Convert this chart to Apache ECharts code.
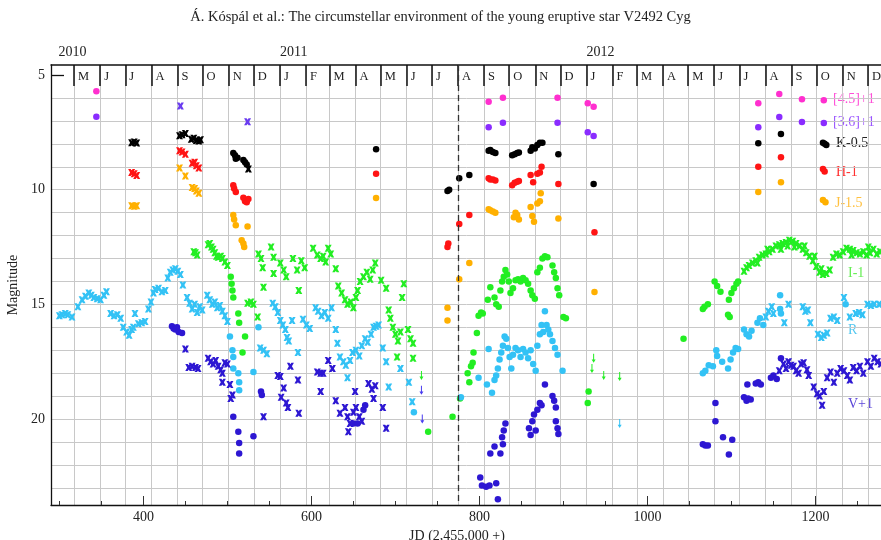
<!DOCTYPE html>
<html>
<head>
<meta charset="utf-8">
<script src="https://cdn.jsdelivr.net/npm/echarts@6/dist/echarts.min.js"></script>
<style>
html,body{margin:0;padding:0;background:#fff;}
#c{width:881px;height:540px;}
</style>
</head>
<body>
<div id="c"></div>
<script>
// ---------- axis / tick data ----------
const xTicks = [300,350,400,450,500,550,600,650,700,750,800,850,900,950,1000,1050,1100,1150,1200,1250];
const xLabels = [400,600,800,1000,1200];
const monthStarts = [317.5,348.5,378.5,409.5,440.5,470.5,501.5,531.5,562.5,593.5,621.5,652.5,682.5,713.5,743.5,774.5,805.5,835.5,866.5,896.5,927.5,958.5,987.5,1018.5,1048.5,1079.5,1109.5,1140.5,1171.5,1201.5,1232.5,1262.5];
const monthLetters = ['M','J','J','A','S','O','N','D','J','F','M','A','M','J','J','A','S','O','N','D','J','F','M','A','M','J','J','A','S','O','N','D'];
const yearPos = [299,562.5,927.5];
const yearLabels = ['2010','2011','2012'];
const yGrid = [6,7,8,9,10,11,12,13,14,15,16,17,18,19,20,21,22,23];
const yLabels = [5,10,15,20];
const dashedJD = 774.5;

// ---------- data [JD-2455000, magnitude] ----------
const m45_dots = [[344,5.7],[811,6.16],[828,5.99],[893,5.99],[929,6.23],[936,6.38],[1132,6.23],[1157,5.83],[1184,6.05],[1210,6.1]];
const m36_dots = [[344,6.82],[811,7.27],[828,7.08],[893,7.08],[929,7.49],[936,7.66],[1132,7.27],[1157,6.83],[1184,7.05],[1210,7.09]];
const m36_crosses = [[444,6.35],[524,7.04]];

const k_crosses = [[386,7.95],[389,7.92],[392,7.96],[443,7.65],[446,7.6],[450,7.55],[457,7.8],[460,7.75],[463,7.85],[466,7.88],[468,7.82],[525,9.1]];
const k_dots = [[507,8.4],[509,8.5],[510,8.65],[512,8.6],[519,8.7],[521,8.8],[523,8.9],[677,8.23],[762,10.06],[764,10.0],[776,9.5],[788,9.36],[811,8.3],[813,8.27],[816,8.35],[819,8.4],[839,8.5],[842,8.45],[845,8.4],[847,8.38],[861,8.3],[863,8.15],[866,8.2],[869,8.05],[872,7.95],[875,7.95],[894,8.45],[936,9.75],[1132,7.97],[1159,7.57],[1209,7.95],[1211,8.0],[1213,8.05]];

const h_crosses = [[386,9.25],[389,9.3],[392,9.38],[443,8.3],[446,8.35],[450,8.45],[458,8.85],[461,8.8],[463,8.95],[466,9.05]];
const h_dots = [[507,9.8],[508,9.95],[510,10.1],[519,10.35],[521,10.5],[523,10.55],[525,10.4],[677,9.3],[762,12.5],[763,12.35],[776,11.5],[788,11.1],[811,9.5],[813,9.55],[816,9.55],[819,9.6],[839,9.8],[842,9.7],[845,9.65],[847,9.62],[861,9.36],[864,9.67],[869,9.3],[872,9.25],[874,9.0],[894,9.75],[937,11.85],[1132,9.0],[1159,8.58],[1209,9.1],[1211,9.2]];

const j_crosses = [[386,10.7],[389,10.72],[392,10.7],[443,9.05],[450,9.4],[458,9.9],[461,9.95],[463,10.05],[466,10.15]];
const j_dots = [[507,11.1],[508,11.3],[510,11.55],[517,12.2],[519,12.35],[520,12.5],[524,11.6],[677,10.36],[762,15.15],[762,15.7],[776,13.9],[788,13.2],[811,10.85],[813,10.9],[816,10.95],[819,11.0],[841,11.2],[843,11.0],[845,11.1],[847,11.3],[861,10.75],[863,11.15],[865,11.4],[869,10.6],[872,10.5],[873,10.15],[894,11.25],[937,14.46],[1132,10.1],[1159,9.67],[1209,10.45],[1212,10.55]];

const i_crosses = [[460,12.7],[462,12.75],[464,12.85],[477,12.4],[479,12.35],[481,12.5],[483,12.6],[485,12.75],[487,12.9],[489,12.95],[492,12.9],[494,13.0],[497,13.15],[500,13.3],[524,14.95],[528,14.9],[531,15.0],[536,15.55],[537,12.8],[540,13.0],[542,13.4],[543,14.25],[552,12.5],[555,12.95],[555,13.65],[563,13.2],[567,13.5],[570,13.8],[578,13.0],[583,13.5],[585,14.4],
  [588,13.1],[592,13.4],[602,12.55],[607,12.85],[611,13.0],[614,12.9],[617,13.15],[620,12.55],[623,12.8],[629,13.45],[632,14.2],[636,14.5],[640,14.8],[643,15.0],[647,14.9],[650,15.15],[653,14.7],[655,14.4],[658,14.0],[662,13.8],[666,13.6],[670,13.9],[673,13.5],[676,13.2],[683,13.95],[689,14.3],[692,15.25],[694,15.6],[697,16.0],[700,16.3],[703,16.6],[706,16.2],[710,14.1],[708,14.7],[715,16.1],[718,16.5],[721,16.7],[702,17.3],[721,17.35],
  [1115,13.55],[1118,13.4],[1121,13.3],[1125,13.2],[1129,13.1],[1133,12.95],[1137,12.85],[1141,12.8],[1145,12.7],[1149,12.6],[1153,12.45],[1157,12.4],[1161,12.35],[1165,12.3],[1169,12.2],[1173,12.25],[1177,12.35],[1181,12.45],[1185,12.6],[1189,12.75],[1193,12.9],[1197,13.1],[1201,13.35],[1205,13.6],[1209,13.7],[1213,13.65],[1217,13.5],[1221,12.95],[1225,12.8],[1229,12.85],[1233,12.7],[1237,12.55],[1241,12.6],[1245,12.65],[1249,12.75],[1253,12.8],[1257,12.7],[1261,12.85],[1265,12.75],[1269,12.6],[1273,12.8],[1277,12.7],
  [1131,13.2],[1143,12.6],[1159,12.6],[1167,12.45],[1175,12.5],[1187,12.45],[1199,12.9],[1207,13.45],[1243,12.85],[1263,12.5]];
const i_dots = [[504,13.8],[505,14.1],[506,14.4],[507,14.7],[513,15.4],[514,15.8],[521,16.4],[518,17.1],[739,20.55],[768,19.9],
  [777,19.1],[786,18.0],[788,18.4],[790,17.7],[792,17.55],[793,17.1],[797,16.25],[799,15.5],[802,15.35],[804,15.4],[810,14.8],[813,14.25],[818,14.7],[820,15.0],[823,15.1],[825,14.4],[827,14.0],[829,13.8],[831,13.5],[833,13.7],[835,14.0],[837,14.5],[840,14.3],[843,13.95],[846,13.9],[849,14.0],[852,13.85],[855,13.95],[858,14.1],[861,14.4],[863,14.6],[866,14.75],[869,13.6],[872,13.4],[875,13.0],[878,12.9],[881,12.95],[887,13.3],[889,13.6],[891,13.85],[893,14.3],[895,14.6],[900,15.55],[903,15.6],
  [930,18.8],[929,19.3],[1043,16.5],[1066,15.2],[1068,15.1],[1072,15.0],[1080,14.0],[1083,14.2],[1087,14.45],[1096,15.45],[1098,15.55],[1097,14.8],[1100,14.5],[1103,14.3],[1106,14.1],[1108,14.0]];
const i_limits = [[731,18.1],[936,17.35],[934,17.8],[948,18.1],[967,18.15]];

const r_crosses = [[300,15.5],[303,15.45],[307,15.4],[310,15.45],[315,15.55],[322,15.1],[327,14.8],[331,14.65],[335,14.5],[338,14.6],[341,14.7],[345,14.75],[349,14.8],[353,14.6],[356,14.45],[361,15.4],[365,15.5],[369,15.45],[373,15.6],[376,16.0],[380,16.2],[383,16.35],[386,16.1],[388,16.0],[390,15.4],[394,15.85],[398,15.8],[402,15.75],[406,15.2],[409,14.9],[412,14.5],[414,14.35],[418,14.3],[422,14.45],[426,14.4],[429,13.85],[432,13.6],[435,13.5],[438,13.45],[441,13.55],[444,13.7],[447,14.15],[452,14.7],[455,14.95],[458,15.2],[461,15.0],[464,15.35],[467,15.1],[470,15.25],[476,14.6],[479,14.8],[482,15.0],[485,14.9],[488,15.15],[491,15.05],[494,15.3],[497,15.5],[500,15.75],[539,16.9],[543,17.0],[547,17.15],[554,14.95],[557,15.1],[560,15.35],[563,15.7],[566,15.9],[569,16.1],[571,16.45],[573,16.6],[577,15.7],[584,17.1],
  [590,15.65],[594,15.9],[598,16.05],[605,15.15],[608,15.3],[612,15.5],[616,15.35],[620,15.6],[624,15.15],[629,16.1],[631,16.7],[634,17.3],[638,17.5],[641,17.65],[643,18.2],[646,17.45],[649,17.1],[653,17.0],[657,17.25],[660,16.8],[664,16.5],[667,16.65],[671,16.3],[674,16.0],[677,15.95],[680,15.9],[685,16.9],[689,17.5],[692,18.6],[706,17.8],[716,18.4],[720,19.25],
  [1141,15.55],[1144,15.3],[1148,15.1],[1150,15.4],[1163,15.8],[1168,15.0],[1185,15.1],[1188,15.3],[1191,15.25],[1194,15.8],[1203,16.3],[1207,16.45],[1210,16.35],[1214,16.25],[1218,15.6],[1222,15.55],[1226,15.7],[1234,14.7],[1241,15.55],[1248,15.4],[1252,15.35],[1256,15.45],[1262,15.0],[1266,15.05],[1270,15.0],[1276,15.0]];
const r_dots = [[503,16.4],[506,17.0],[507,17.3],[507,17.8],[513,18.0],[514,18.4],[514,18.75],[531,17.95],[537,16.0],[722,19.7],
  [778,19.05],[799,18.2],[809,18.5],[811,16.95],[815,18.85],[818,18.3],[820,18.1],[822,17.8],[824,17.4],[826,17.1],[828,16.8],[830,16.4],[832,16.5],[834,16.9],[836,17.3],[838,17.8],[840,17.2],[843,16.9],[846,17.0],[849,17.3],[852,16.95],[855,17.1],[858,17.35],[861,17.0],[864,17.6],[867,17.9],[869,16.8],[872,16.3],[874,15.9],[876,16.2],[878,15.3],[880,15.9],[882,16.1],[884,16.3],[887,16.6],[890,16.9],[893,17.2],[899,17.9],
  [1066,18.0],[1069,17.9],[1073,17.65],[1078,17.7],[1082,17.0],[1083,17.25],[1089,17.5],[1096,17.8],[1099,17.4],[1102,17.1],[1105,16.9],[1108,16.95],[1115,16.1],[1118,16.3],[1121,16.4],[1124,16.15],[1131,15.8],[1134,15.6],[1138,15.9],[1158,14.6],[1158,15.2],[1159,15.4],[1236,15.0]];
const r_limits = [[967,20.2]];

const v_dots = [[434,15.95],[436,16.05],[438,16.1],[440,16.0],[442,16.2],[446,16.25],[507,19.9],[513,20.55],[514,21.05],[514,21.5],[531,20.75],[540,18.8],[541,18.95],[662,19.6],[664,19.4],[650,20.2],[655,20.2],
  [801,22.55],[803,22.9],[808,22.95],[812,22.9],[820,22.8],[822,23.5],[813,21.5],[818,21.2],[825,21.5],[828,21.1],[827,20.8],[829,20.5],[831,20.2],[859,20.4],[861,20.7],[863,20.1],[865,19.8],[867,20.5],[869,19.6],[872,19.3],[874,19.4],[878,18.5],[887,19.0],[889,19.2],[891,19.5],[891,20.1],[893,20.4],[894,20.65],
  [1066,21.1],[1069,21.15],[1072,21.15],[1081,19.3],[1081,20.1],[1090,20.8],[1097,21.55],[1101,20.9],[1115,19.05],[1118,19.2],[1120,19.1],[1123,19.15],[1119,18.5],[1129,18.45],[1132,18.4],[1135,18.5],[1147,18.2],[1150,18.1],[1154,18.25],[1159,17.35]];
const v_crosses = [[450,16.95],[454,17.75],[458,17.7],[462,17.75],[465,17.8],[477,17.35],[480,17.5],[483,17.6],[486,17.45],[489,17.7],[492,17.85],[494,18.0],[497,17.55],[500,17.6],[494,18.4],[503,18.5],[506,18.95],[504,19.1],[543,19.9],[560,18.1],[563,18.15],[564,19.05],[567,18.65],[570,19.3],[572,19.5],[575,17.7],[585,19.75],
  [584,18.3],[607,17.95],[611,18.0],[614,18.0],[611,18.8],[620,17.45],[625,17.8],[629,19.2],[634,19.75],[640,19.5],[643,19.9],[646,20.2],[650,19.7],[653,19.5],[657,19.9],[660,20.1],[644,20.55],[652,18.8],[668,18.45],[672,18.7],[676,18.55],[674,19.1],[685,19.5],[689,20.4],
  [1157,17.9],[1162,17.6],[1165,17.8],[1168,17.5],[1171,17.65],[1174,17.7],[1177,17.9],[1180,18.0],[1183,17.6],[1186,17.55],[1190,17.85],[1192,18.1],[1198,18.6],[1202,18.9],[1205,19.0],[1208,19.4],[1210,18.8],[1214,18.2],[1218,17.95],[1222,18.4],[1226,18.0],[1230,17.8],[1234,17.9],[1238,18.1],[1241,18.3],[1245,17.75],[1249,17.9],[1253,17.7],[1257,18.0],[1262,17.5],[1266,17.7],[1270,17.35],[1274,17.5],[1278,17.6]];
const v_limits = [[731,18.75],[732,20.0]];

// ---------- styling ----------
const SERIF = '"Liberation Serif", "DejaVu Serif", serif';
const CROSS = 'path://M0,0L3.6,0L5,2L6.4,0L10,0L7.2,5L10,10L6.4,10L5,8L3.6,10L0,10L2.8,5Z';
const ARROW = 'path://M4,0L6,0L6,10L9,10L5,16L1,10L4,10Z';
const COL = {
  m45:'#ff2fcf', m36:'#8a2cff', m36x:'#6a3cf0', k:'#000000', h:'#ff1414', j:'#ffb000',
  i:'#22ee22', r:'#33c2f5', v:'#2d17d2'
};

function sc(name, data, color, symbol, size){
  return {type:'scatter', name, data, xAxisIndex:0, yAxisIndex:0, symbol, symbolSize:size,
          itemStyle:{color, opacity:1}, silent:true, z:3};
}

const series = [
  sc('I-1 x', i_crosses, COL.i, CROSS, 7),
  sc('I-1', i_dots, COL.i, 'circle', 6.5),
  sc('I-1 lim', i_limits, COL.i, ARROW, [4,9]),
  sc('R x', r_crosses, COL.r, CROSS, 7),
  sc('R', r_dots, COL.r, 'circle', 6.5),
  sc('R lim', r_limits, COL.r, ARROW, [4,9]),
  sc('V x', v_crosses, COL.v, CROSS, 7),
  sc('V', v_dots, COL.v, 'circle', 6.5),
  sc('V lim', v_limits, '#4a3cf0', ARROW, [4,9]),
  sc('J x', j_crosses, COL.j, CROSS, 7),
  sc('J', j_dots, COL.j, 'circle', 6.5),
  sc('H x', h_crosses, COL.h, CROSS, 7),
  sc('H', h_dots, COL.h, 'circle', 6.5),
  sc('K x', k_crosses, COL.k, CROSS, 7),
  sc('K', k_dots, COL.k, 'circle', 6.5),
  sc('[3.6] x', m36_crosses, COL.m36x, CROSS, 7),
  sc('[3.6]', m36_dots, COL.m36, 'circle', 6.5),
  sc('[4.5]', m45_dots, COL.m45, 'circle', 6.5)
];
series[0].markLine = {
  silent:true, symbol:['none','none'], label:{show:false},
  lineStyle:{color:'#333', type:[6,4], width:1.3},
  data:[{xAxis: dashedJD}]
};

const xMin = 290, xMax = 1290, yMin = 4.56, yMax = 23.75;
const gridColor = '#c8c8c8';
const plain = v => String(v);

const option = {
  animation:false,
  backgroundColor:'#ffffff',
  grid:{left:51, top:65, width:840, height:440, containLabel:false, outerBoundsMode:'none'},
  xAxis:[
    {type:'value', min:xMin, max:xMax, position:'bottom',
     axisLine:{show:true, lineStyle:{color:'#111', width:1.3}},
     axisTick:{show:true, inside:true, length:4, customValues:xTicks, lineStyle:{color:'#333', width:1}},
     axisLabel:{show:true, customValues:xLabels, margin:5, color:'#222', fontFamily:SERIF, fontSize:14, formatter:plain},
     splitLine:{show:false},
     name:'JD (2,455,000 +)', nameLocation:'middle', nameGap:21,
     nameTextStyle:{color:'#222', fontFamily:SERIF, fontSize:14, padding:[0,28,0,0]}},
    {type:'value', min:xMin, max:xMax, position:'bottom',
     axisLine:{show:false},
     axisTick:{show:true, inside:true, length:9, customValues:xLabels, lineStyle:{color:'#333', width:1}},
     axisLabel:{show:false}, splitLine:{show:false}},
    {type:'value', min:xMin, max:xMax, position:'top',
     axisLine:{show:true, lineStyle:{color:'#111', width:1.5}},
     axisTick:{show:true, inside:true, length:21, customValues:monthStarts, lineStyle:{color:'#111', width:1.5}},
     axisLabel:{show:true, inside:true, margin:5, customValues:monthStarts, align:'left', padding:[0,0,0,4],
       color:'#222', fontFamily:SERIF, fontSize:12.5,
       formatter:function(v){ const k = monthStarts.indexOf(v); return k>=0 ? monthLetters[k] : ''; }},
     splitLine:{show:true, lineStyle:{color:gridColor, width:1}}},
    {type:'value', min:xMin, max:xMax, position:'top',
     axisLine:{show:false}, axisTick:{show:false},
     axisLabel:{show:true, customValues:yearPos, margin:6, align:'left', color:'#222', fontFamily:SERIF, fontSize:14,
       formatter:function(v){ const k = yearPos.indexOf(v); return k>=0 ? yearLabels[k] : ''; }},
     splitLine:{show:false}}
  ],
  yAxis:[
    {type:'value', inverse:true, min:yMin, max:yMax,
     axisLine:{show:false},
     axisTick:{show:false, customValues:yGrid},
     axisLabel:{show:false},
     splitLine:{show:true, lineStyle:{color:gridColor, width:1}}},
    {type:'value', inverse:true, min:yMin, max:yMax, position:'left',
     axisLine:{show:true, lineStyle:{color:'#111', width:1.3}},
     axisTick:{show:true, inside:true, length:13, customValues:[5], lineStyle:{color:'#111', width:1.3}},
     axisLabel:{show:true, customValues:yLabels, margin:6, color:'#222', fontFamily:SERIF, fontSize:14, formatter:plain},
     splitLine:{show:false},
     name:'Magnitude', nameLocation:'middle', nameGap:29, nameRotate:90,
     nameTextStyle:{color:'#222', fontFamily:SERIF, fontSize:14}}
  ],
  graphic:[
    {type:'text', left:'center', top:10, style:{text:'Á. Kóspál et al.: The circumstellar environment of the young eruptive star V2492 Cyg', fill:'#222', font:'14.5px ' + SERIF}},
    {type:'text', x:833, y:99, style:{text:'[4.5]+1', fill:'#ff4fd8', font:'14px ' + SERIF, verticalAlign:'middle'}},
    {type:'text', x:833, y:122, style:{text:'[3.6]+1', fill:'#9a55ff', font:'14px ' + SERIF, verticalAlign:'middle'}},
    {type:'text', x:836, y:143, style:{text:'K-0.5', fill:'#222', font:'14px ' + SERIF, verticalAlign:'middle'}},
    {type:'text', x:836, y:172, style:{text:'H-1', fill:'#ff3030', font:'14px ' + SERIF, verticalAlign:'middle'}},
    {type:'text', x:835, y:203, style:{text:'J-1.5', fill:'#ffc040', font:'14px ' + SERIF, verticalAlign:'middle'}},
    {type:'text', x:848, y:273, style:{text:'I-1', fill:'#66ee55', font:'14px ' + SERIF, verticalAlign:'middle'}},
    {type:'text', x:848, y:330, style:{text:'R', fill:'#55c8f0', font:'14px ' + SERIF, verticalAlign:'middle'}},
    {type:'text', x:848, y:404, style:{text:'V+1', fill:'#5a45d8', font:'14px ' + SERIF, verticalAlign:'middle'}}
  ],
  series
};

const chart = echarts.init(document.getElementById('c'), null, {renderer:'canvas'});
chart.setOption(option);
</script>
</body>
</html>
